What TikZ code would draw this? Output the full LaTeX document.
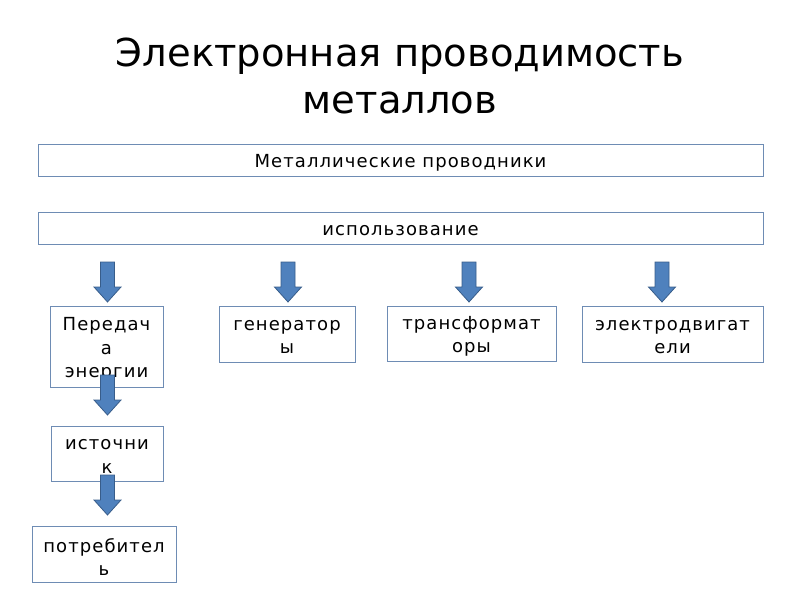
\documentclass[tikz,border=0pt]{standalone}
\usepackage{fontspec}
\setmainfont{DejaVu Sans}
\newfontfamily\boxfont[LetterSpace=6]{DejaVu Sans}
\definecolor{boxline}{RGB}{110,140,180}
\definecolor{arrowfill}{RGB}{79,129,189}
\definecolor{arrowline}{RGB}{56,93,138}
\tikzset{
  box/.style={draw=boxline, line width=0.8bp, inner sep=0pt},
  boxtext/.style={align=center, yshift=-3bp,
    font=\boxfont\fontsize{18bp}{23.5bp}\selectfont},
  blkarrow/.pic={
    \draw[arrowline, fill=arrowfill, line width=0.8bp]
      (-7,0) -- (7,0) -- (7,25) -- (13.5,25) -- (0,40) -- (-13.5,25) -- (-7,25) -- cycle;
  }
}
\begin{document}
\begin{tikzpicture}[x=1bp,y=-1bp]
\useasboundingbox (0,0) rectangle (800,600);
\node[align=center, font=\fontsize{38.5bp}{47bp}\selectfont] (title) at (400,76)
  {Электронная проводимость\\металлов};

\node[box, minimum width=725bp, minimum height=32bp,
  label={[boxtext]center:Металлические проводники}] (cond) at (400.5,160) {};
\node[box, minimum width=725bp, minimum height=32bp,
  label={[boxtext]center:использование}] (use) at (400.5,228) {};

\node[box, minimum width=113bp, minimum height=81bp,
  label={[boxtext]center:{Передач\\а\\энергии}}] (trans) at (106.5,346.5) {};
\node[box, minimum width=136bp, minimum height=56bp,
  label={[boxtext]center:{генератор\\ы}}] (gen) at (287,334) {};
\node[box, minimum width=169bp, minimum height=55bp,
  label={[boxtext]center:{трансформат\\оры}}] (tf) at (471.5,333.5) {};
\node[box, minimum width=181bp, minimum height=56bp,
  label={[boxtext]center:{электродвигат\\ели}}] (motor) at (672.5,334) {};
\node[box, minimum width=112bp, minimum height=55bp,
  label={[boxtext]center:{источни\\к}}] (src) at (107,453.5) {};
\node[box, minimum width=144bp, minimum height=56bp,
  label={[boxtext]center:{потребител\\ь}}] (cons) at (104,554) {};

% block arrows
\foreach \x in {107.5, 288, 469, 662}
  \pic at (\x,262) {blkarrow};
\pic at (107.5,375) {blkarrow};
\pic at (107.5,475) {blkarrow};
\end{tikzpicture}
\end{document}
